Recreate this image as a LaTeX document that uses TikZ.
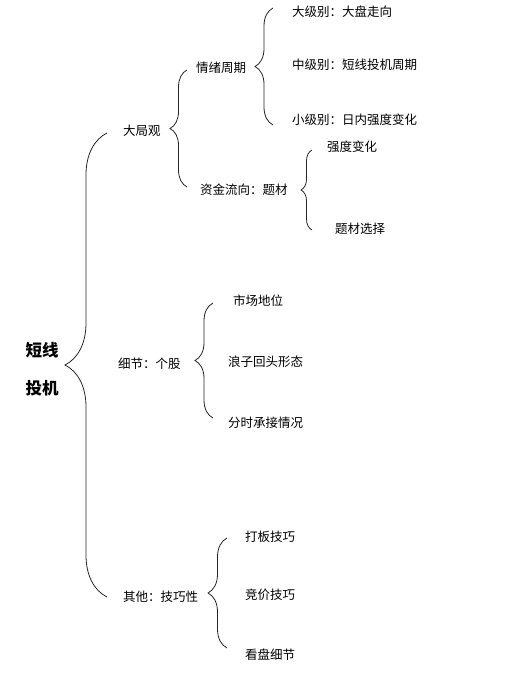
\documentclass[tikz,border=0pt]{standalone}
\usepackage{fontspec}
\setmainfont{Noto Sans CJK SC}
\usetikzlibrary{decorations.pathreplacing}

\begin{document}
\begin{tikzpicture}[
  x=1pt, y=-1pt,
  rootlabel/.style={font=\fontsize{16.5}{18}\selectfont\bfseries, inner sep=0pt},
  leaf/.style={font=\fontsize{12.5}{14}\selectfont, anchor=west, inner sep=0pt},
  curly/.style={decorate, decoration={brace, amplitude=#1}, line width=0.8pt, draw=black!85}
]
\useasboundingbox[fill=white] (0,0) rectangle (513,684);
% root
\node[rootlabel] (short) at (42,350) {短线};
\node[rootlabel] (spec) at (42,388) {投机};
% first level
\node[leaf] (overview) at (123,131) {大局观};
\node[leaf] (detail) at (118,364) {细节：个股};
\node[leaf] (other) at (123,597) {其他：技巧性};
% second level
\node[leaf] (mood) at (196,68) {情绪周期};
\node[leaf] (flow) at (200,190) {资金流向：题材};
\node[leaf] (large) at (292,12) {大级别：大盘走向};
\node[leaf] (middle) at (292,65) {中级别：短线投机周期};
\node[leaf] (small) at (292,120) {小级别：日内强度变化};
\node[leaf] (strength) at (327,147) {强度变化};
\node[leaf] (theme) at (335,229) {题材选择};
\node[leaf] (position) at (233,301) {市场地位};
\node[leaf] (comeback) at (228,362) {浪子回头形态};
\node[leaf] (intraday) at (228,423) {分时承接情况};
\node[leaf] (limitup) at (245,537) {打板技巧};
\node[leaf] (auction) at (245,595) {竞价技巧};
\node[leaf] (tape) at (245,655) {看盘细节};
% brace ends
\coordinate (root-top) at (107,133);
\coordinate (root-bot) at (107,597);
\coordinate (overview-top) at (187,70);
\coordinate (overview-bot) at (187,187);
\coordinate (mood-top) at (273,8);
\coordinate (mood-bot) at (273,125);
\coordinate (flow-top) at (312,150);
\coordinate (flow-bot) at (312,230);
\coordinate (detail-top) at (213,303);
\coordinate (detail-bot) at (213,418);
\coordinate (other-top) at (227,538);
\coordinate (other-bot) at (227,648);
% braces
\draw[curly=42] (root-bot) -- (root-top);
\draw[curly=17] (overview-bot) -- (overview-top);
\draw[curly=18] (mood-bot) -- (mood-top);
\draw[curly=11] (flow-bot) -- (flow-top);
\draw[curly=18] (detail-bot) -- (detail-top);
\draw[curly=19] (other-bot) -- (other-top);
\end{tikzpicture}
\end{document}
